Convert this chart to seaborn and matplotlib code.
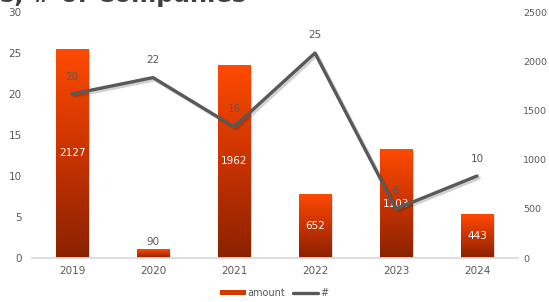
import numpy as np
import matplotlib
matplotlib.use('Agg')
import matplotlib.pyplot as plt
import matplotlib.patheffects as pe
from matplotlib.colors import LinearSegmentedColormap
from matplotlib.lines import Line2D
from matplotlib.patches import Patch
import seaborn as sns

# chart data
years = ['2019', '2020', '2021', '2022', '2023', '2024']
amount = [2127, 90, 1962, 652, 1103, 443]
companies = [20, 22, 16, 25, 6, 10]

sns.set_theme(style='white')
plt.rcParams['font.family'] = ['DejaVu Sans']

text_grey = '#595959'
grad = LinearSegmentedColormap.from_list('bar', ['#8a2200', '#c93300', '#ff4a00'])

fig = plt.figure(figsize=(5.49, 3.02), dpi=100)
ax = fig.add_axes([31.5 / 549, 1 - 258 / 302, 486 / 549, 246 / 302])

# bars on the right-hand scale
sns.barplot(x=years, y=amount, ax=ax, width=0.4, color='#e04000', saturation=1)

# gradient fill, dark at bottom and orange at top
g = np.linspace(0, 1, 256).reshape(-1, 1)
for p in ax.patches:
    x0, y0 = p.get_x(), p.get_y()
    w, h = p.get_width(), p.get_height()
    p.set_facecolor('none')
    p.set_edgecolor('none')
    p.set_path_effects([pe.SimplePatchShadow(offset=(1.5, -1.5), alpha=0.15, shadow_rgbFace='black')])
    im = ax.imshow(g, cmap=grad, origin='lower', aspect='auto',
                   extent=[x0, x0 + w, y0, y0 + h], zorder=2)
    im.set_clip_path(p)
ax.set_xlim(-0.5, 5.5)
ax.set_ylim(0, 2500)
ax.set_yticks([0, 500, 1000, 1500, 2000, 2500])

# bar value labels
for i, v in enumerate(amount):
    if v < 200:
        ax.text(i, v + 20, str(v), ha='center', va='bottom', fontsize=7.5, color=text_grey, zorder=5)
    else:
        ax.text(i, v / 2, str(v), ha='center', va='center', fontsize=7.5, color='white', zorder=5)

# line on the left-hand scale
ax2 = ax.twinx()
sns.lineplot(x=np.arange(len(years)), y=companies, ax=ax2, color=text_grey, linewidth=2.4,
             path_effects=[pe.SimpleLineShadow(offset=(1.5, -1.5), alpha=0.2), pe.Normal()])
ax2.set_ylim(0, 30)
ax2.set_yticks([0, 5, 10, 15, 20, 25, 30])
for i, v in enumerate(companies):
    ax2.annotate(str(v), (i, v), xytext=(0, 9), textcoords='offset points',
                 ha='center', va='bottom', fontsize=7.5, color=text_grey)

# swap sides: bars read on the right, line on the left
ax.yaxis.tick_right()
ax2.yaxis.tick_left()

for a in (ax, ax2):
    for s in a.spines.values():
        s.set_visible(False)
    a.tick_params(axis='both', length=0, labelsize=7.5, labelcolor=text_grey)
    a.set_xlabel('')
    a.set_ylabel('')
ax.spines['bottom'].set_visible(True)
ax.spines['bottom'].set_color('#d9d9d9')
ax.tick_params(axis='x', pad=6)
ax.tick_params(axis='y', pad=4, labelsize=6.8)
ax2.tick_params(axis='y', pad=7)

# legend at the bottom
handles = [Patch(facecolor='#d23a00', edgecolor='none', label='amount'),
           Line2D([0], [0], color=text_grey, linewidth=2.4, label='#')]
fig.legend(handles=handles, loc='center', bbox_to_anchor=(0.5, 1 - 293 / 302), ncol=2,
           frameon=False, fontsize=7, labelcolor=text_grey, handlelength=2.6,
           handleheight=0.5, columnspacing=0.8, handletextpad=0.2)

# title, cut off at the top edge as in the source
fig.text(0.0, 1 + 17 / 302, 's, # of Companies', fontsize=17.5, fontweight='bold',
         color='#404040', ha='left', va='top')

fig.savefig('out.png', dpi=100)
